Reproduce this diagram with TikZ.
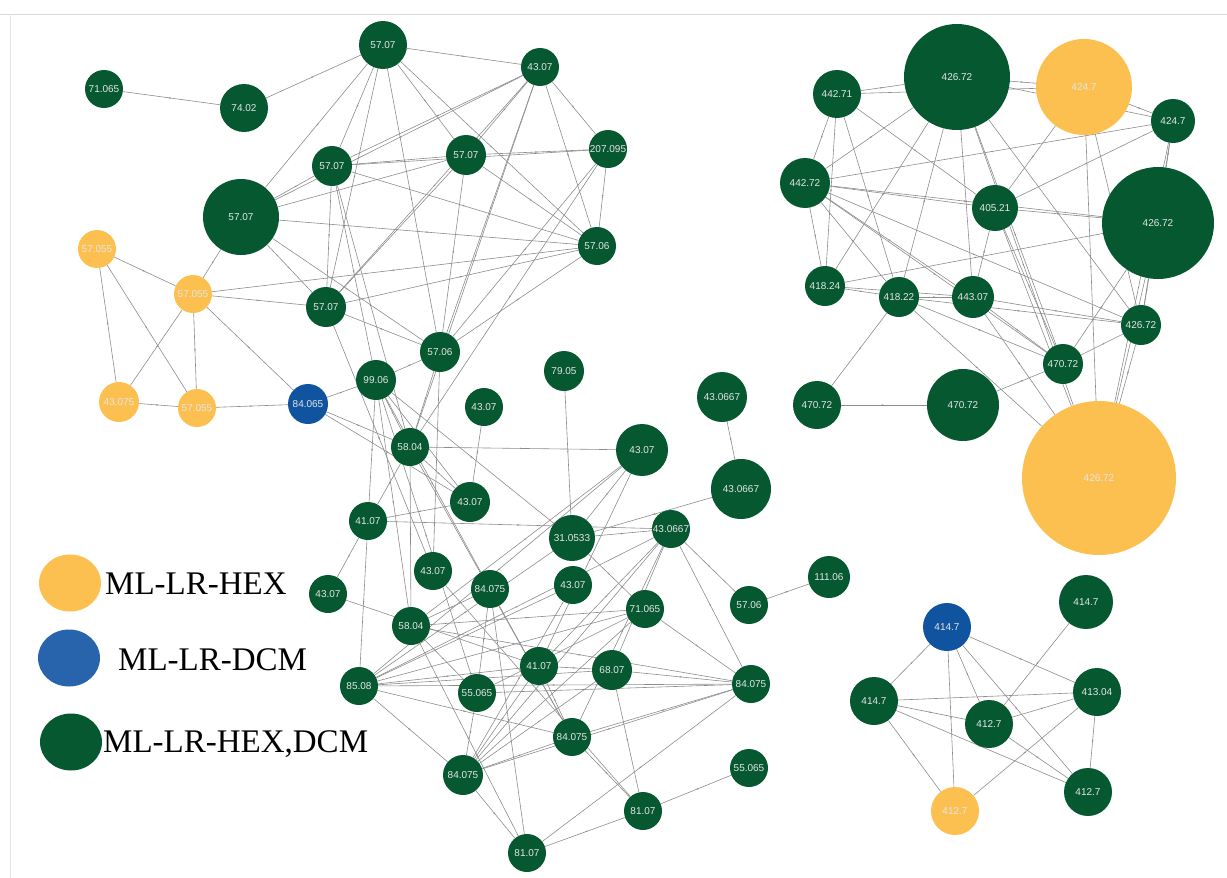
\documentclass[tikz,border=0pt]{standalone}
\usepackage{fontspec}
\setmainfont{Liberation Serif}
\newfontfamily\labelfont{Liberation Sans}
\usetikzlibrary{arrows.meta,decorations.markings,backgrounds,shapes.geometric}
\definecolor{hexcol}{RGB}{252,192,80}
\definecolor{dcmcol}{RGB}{16,84,160}
\definecolor{keyblue}{RGB}{40,100,172}
\definecolor{bothcol}{RGB}{5,88,48}
\tikzset{
  ion/.style={circle, inner sep=0pt, text=white!90!black,
    font=\labelfont\fontsize{10}{12}\selectfont},
  hexnode/.style={ion, fill=hexcol},
  dcmnode/.style={ion, fill=dcmcol},
  bothnode/.style={ion, fill=bothcol},
  link/.style={draw=black!45, line width=0.6pt, postaction={decorate},
    decoration={markings, mark=at position 0.5 with {\arrow{Stealth[length=2.5pt,width=1.6pt]}}}},
  swatch/.style={ellipse, inner sep=0pt, minimum width=62pt, minimum height=57pt},
  keytext/.style={anchor=west, inner sep=0pt, font=\fontsize{33}{36}\selectfont}
}
\begin{document}
\begin{tikzpicture}[x=1pt,y=-1pt]
  \useasboundingbox (0,0) rectangle (1227,878);
  \draw[black!15, line width=1pt] (0,14) -- (1227,14);
  \draw[black!10, line width=0.8pt] (10,14) -- (10,878);

  % left cluster
  \node[bothnode, minimum size=38pt] (a1) at (104,89) {71.065};
  \node[bothnode, minimum size=48pt] (a2) at (244,108) {74.02};
  \node[bothnode, minimum size=48pt] (a3) at (383,45) {57.07};
  \node[bothnode, minimum size=38pt] (a4) at (540,67) {43.07};
  \node[bothnode, minimum size=40pt] (a5) at (332,166) {57.07};
  \node[bothnode, minimum size=40pt] (a6) at (466,155) {57.07};
  \node[bothnode, minimum size=38pt] (a7) at (608,149) {207.095};
  \node[bothnode, minimum size=76pt] (a8) at (241,217) {57.07};
  \node[bothnode, minimum size=38pt] (a9) at (597,246) {57.06};
  \node[hexnode, minimum size=38pt] (y1) at (97,249) {57.055};
  \node[hexnode, minimum size=38pt] (y2) at (193,294) {57.055};
  \node[bothnode, minimum size=40pt] (a10) at (326,307) {57.07};
  \node[bothnode, minimum size=40pt] (a11) at (440,352) {57.06};
  \node[hexnode, minimum size=40pt] (y3) at (119,402) {43.075};
  \node[hexnode, minimum size=38pt] (y4) at (197,408) {57.055};
  \node[dcmnode, minimum size=40pt] (b1) at (308,404) {84.065};
  \node[bothnode, minimum size=40pt] (a12) at (376,380) {99.06};
  \node[bothnode, minimum size=40pt] (a13) at (564,371) {79.05};
  \node[bothnode, minimum size=38pt] (a14) at (484,407) {43.07};
  \node[bothnode, minimum size=50pt] (a15) at (722,397) {43.0667};
  \node[bothnode, minimum size=38pt] (a16) at (410,447) {58.04};
  \node[bothnode, minimum size=52pt] (a17) at (642,450) {43.07};
  \node[bothnode, minimum size=60pt] (a18) at (741,489) {43.0667};
  \node[bothnode, minimum size=40pt] (a19) at (470,502) {43.07};
  \node[bothnode, minimum size=38pt] (a20) at (368,521) {41.07};
  \node[bothnode, minimum size=46pt] (a21) at (572,538) {31.0533};
  \node[bothnode, minimum size=38pt] (a22) at (671,529) {43.0667};
  \node[bothnode, minimum size=38pt] (a23) at (328,594) {43.07};
  \node[bothnode, minimum size=38pt] (a24) at (433,571) {43.07};
  \node[bothnode, minimum size=38pt] (a25) at (490,589) {84.075};
  \node[bothnode, minimum size=38pt] (a26) at (573,585) {43.07};
  \node[bothnode, minimum size=38pt] (a27) at (411,626) {58.04};
  \node[bothnode, minimum size=38pt] (a28) at (645,609) {71.065};
  \node[bothnode, minimum size=38pt] (a29) at (749,605) {57.06};
  \node[bothnode, minimum size=42pt] (a30) at (829,577) {111.06};
  \node[bothnode, minimum size=38pt] (a31) at (359,686) {85.08};
  \node[bothnode, minimum size=38pt] (a32) at (477,693) {55.065};
  \node[bothnode, minimum size=38pt] (a33) at (539,666) {41.07};
  \node[bothnode, minimum size=40pt] (a34) at (612,670) {68.07};
  \node[bothnode, minimum size=38pt] (a35) at (751,684) {84.075};
  \node[bothnode, minimum size=38pt] (a36) at (572,737) {84.075};
  \node[bothnode, minimum size=40pt] (a37) at (463,775) {84.075};
  \node[bothnode, minimum size=38pt] (a38) at (749,768) {55.065};
  \node[bothnode, minimum size=38pt] (a39) at (643,811) {81.07};
  \node[bothnode, minimum size=38pt] (a40) at (527,853) {81.07};

  % right cluster
  \node[bothnode, minimum size=48pt] (r1) at (837,94) {442.71};
  \node[bothnode, minimum size=106pt] (r2) at (957,77) {426.72};
  \node[hexnode, minimum size=96pt] (r3) at (1084,87) {424.7};
  \node[bothnode, minimum size=44pt] (r4) at (1173,121) {424.7};
  \node[bothnode, minimum size=50pt] (r5) at (805,183) {442.72};
  \node[bothnode, minimum size=46pt] (r6) at (995,208) {405.21};
  \node[bothnode, minimum size=112pt] (r7) at (1158,223) {426.72};
  \node[bothnode, minimum size=40pt] (r8) at (825,286) {418.24};
  \node[bothnode, minimum size=40pt] (r9) at (899,297) {418.22};
  \node[bothnode, minimum size=42pt] (r10) at (973,297) {443.07};
  \node[bothnode, minimum size=40pt] (r11) at (1141,325) {426.72};
  \node[bothnode, minimum size=40pt] (r12) at (1063,364) {470.72};
  \node[bothnode, minimum size=48pt] (r13) at (817,405) {470.72};
  \node[bothnode, minimum size=72pt] (r14) at (963,405) {470.72};
  \node[hexnode, minimum size=154pt] (r15) at (1099,478) {426.72};

  % bottom right cluster
  \node[dcmnode, minimum size=48pt] (s1) at (947,627) {414.7};
  \node[bothnode, minimum size=54pt] (s2) at (1086,602) {414.7};
  \node[bothnode, minimum size=48pt] (s3) at (874,701) {414.7};
  \node[bothnode, minimum size=48pt] (s4) at (989,724) {412.7};
  \node[bothnode, minimum size=48pt] (s5) at (1097,692) {413.04};
  \node[bothnode, minimum size=48pt] (s6) at (1088,792) {412.7};
  \node[hexnode, minimum size=48pt] (s7) at (955,811) {412.7};

  % legend
  \node[swatch, fill=hexcol] (k1) at (70,583) {};
  \node[swatch, fill=keyblue] (k2) at (69,658) {};
  \node[swatch, fill=bothcol] (k3) at (71,742) {};
  \node[keytext] (t1) at (105,584) {ML-LR-HEX};
  \node[keytext] (t2) at (118,660) {ML-LR-DCM};
  \node[keytext] (t3) at (103,744) {ML-LR-HEX,DCM};

  \begin{pgfonlayer}{background}
    \foreach \u/\v in {a1/a2, a2/a3, a3/a4, a3/a5, a3/a8, a3/a6, a3/a9, a3/a10, a3/a11,
        a4/a5, a4/a6, a4/a7, a4/a8, a4/a9, a4/a10, a4/a11, a4/a16,
        a5/a6, a5/a7, a5/a8, a5/a9, a5/a10, a5/a12, a5/a16,
        a6/a7, a6/a8, a6/a9, a6/a10, a6/a11, a7/a9, a7/a11, a7/a16,
        a8/y2, a8/a10, a8/a11, a8/a9, y1/y2, y1/y3, y1/y4, y2/y3, y2/y4,
        y2/a10, y2/b1, y2/a9, y3/y4, y4/b1, b1/a12, b1/a16, b1/a19,
        a10/a11, a10/a9, a10/a24, a11/a12, a11/a16, a11/a9, a11/a24,
        a12/a16, a12/a20, a12/a19, a12/a21, a12/a25, a12/a27, a12/a32,
        a16/a17, a16/a19, a16/a20, a16/a27, a16/a36, a14/a19, a13/a21, a15/a18,
        a17/a21, a17/a33, a17/a31, a17/a27, a18/a21, a19/a20, a20/a23, a20/a31, a20/a22,
        a21/a22, a21/a31, a21/a28, a22/a29, a22/a35, a22/a34, a22/a36, a22/a37,
        a22/a31, a22/a33, a23/a33, a24/a39, a25/a27, a25/a32, a25/a40, a25/a36,
        a26/a31, a26/a37, a27/a32, a27/a28, a27/a35, a27/a40, a28/a35, a28/a31, a28/a37,
        a29/a30, a31/a33, a31/a34, a31/a35, a31/a37, a31/a36, a32/a37, a32/a35, a32/a28,
        a33/a34, a33/a36, a33/a37, a34/a35, a34/a39, a34/a37, a35/a36, a35/a37, a35/a40,
        a36/a39, a36/a37, a37/a40, a38/a39, a39/a40}
      \draw[link] (\u) -- (\v);
    \foreach \u/\v in {r1/r2, r1/r3, r1/r5, r1/r8, r1/r9, r1/r6,
        r2/r3, r2/r4, r2/r5, r2/r8, r2/r9, r2/r10, r2/r12, r2/r15, r2/r11,
        r3/r4, r3/r6, r3/r11, r3/r15, r4/r5, r4/r6, r4/r7, r4/r11, r4/r15,
        r5/r6, r5/r7, r5/r8, r5/r9, r5/r10, r5/r11, r5/r12,
        r6/r7, r6/r12, r6/r15, r6/r10, r7/r8, r7/r11, r7/r12, r7/r15,
        r8/r9, r8/r10, r9/r10, r9/r13, r9/r15, r9/r11, r9/r12,
        r10/r11, r10/r12, r10/r15, r11/r12, r11/r15, r12/r14, r13/r14}
      \draw[link] (\u) -- (\v);
    \foreach \u/\v in {s1/s3, s1/s7, s1/s4, s1/s6, s1/s5, s3/s5, s3/s4, s3/s6, s3/s7,
        s7/s5, s2/s4, s4/s5, s4/s6, s5/s6}
      \draw[link] (\u) -- (\v);
  \end{pgfonlayer}
\end{tikzpicture}
\end{document}
